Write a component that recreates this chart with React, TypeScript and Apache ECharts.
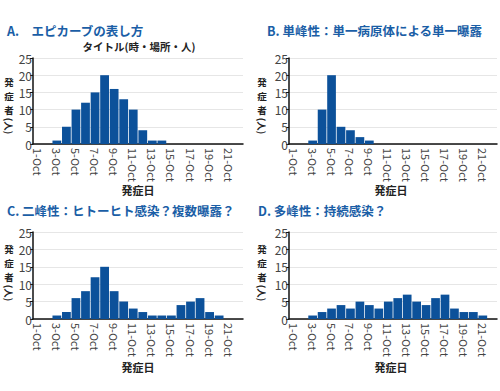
import React, { useEffect, useRef } from "react";
import * as echarts from "echarts";

const days = Array.from({ length: 22 }, (_, i) => `${i + 1}-Oct`);
const seriesA = [0, 0, 1, 5, 10, 12, 15, 20, 16, 13, 10, 4, 1, 1, 0, 0, 0, 0, 0, 0, 0, 0];
const seriesB = [0, 0, 1, 10, 20, 5, 4, 2, 1, 0, 0, 0, 0, 0, 0, 0, 0, 0, 0, 0, 0, 0];
const seriesC = [0, 0, 1, 2, 6, 8, 12, 15, 8, 5, 3, 2, 1, 1, 1, 4, 5, 6, 2, 1, 0, 0];
const seriesD = [0, 0, 1, 2, 3, 4, 3, 5, 4, 3, 5, 6, 7, 5, 4, 6, 7, 3, 2, 2, 1, 0];
const panelTitles = [
  "A.　エピカーブの表し方",
  "B. 単峰性：単一病原体による単一曝露",
  "C. 二峰性：ヒトーヒト感染？複数曝露？",
  "D. 多峰性：持続感染？",
];
const subTitle = "タイトル(時・場所・人)";
const yNameChars = ["発", "症", "者"];
const yNameBottom = "(人)";
const xName = "発症日";

const FONT = "'Noto Sans CJK JP', 'Noto Sans', sans-serif";
const BLUE = "#1a5ea6";
const BAR = "#0c519a";

export default function App() {
  const ref = useRef<HTMLDivElement>(null);
  useEffect(() => {
    if (!ref.current) return;
    const chart = echarts.init(ref.current, null, { renderer: "svg" });
    const grids = [
      { left: 33, top: 58, width: 210, height: 86 },
      { left: 289, top: 58, width: 208, height: 86 },
      { left: 33, top: 232, width: 210, height: 87 },
      { left: 289, top: 232, width: 208, height: 87 },
    ];
    const data = [seriesA, seriesB, seriesC, seriesD];
    const titlePos = [
      { left: 7, top: 24 },
      { left: 267, top: 24 },
      { left: 7, top: 204 },
      { left: 258, top: 204 },
    ];
    const yNamePos = [
      { x: 9, y: 77 },
      { x: 262, y: 77 },
      { x: 9, y: 244 },
      { x: 262, y: 244 },
    ];
    const xNamePos = [
      { x: 138, y: 190 },
      { x: 391, y: 190 },
      { x: 138, y: 367 },
      { x: 391, y: 367 },
    ];
    const labelStyle = {
      fontSize: 9.5,
      fontWeight: "bold",
      fontFamily: FONT,
      fill: "#222",
    };
    const yNameGraphics: any[] = [];
    yNamePos.forEach((p) => {
      yNameChars.forEach((c, k) => {
        yNameGraphics.push({
          type: "text",
          x: p.x,
          y: p.y + k * 14,
          style: { ...labelStyle, text: c, align: "center", verticalAlign: "top" },
        });
      });
      yNameGraphics.push({
        type: "text",
        x: p.x,
        y: p.y + 49,
        rotation: -Math.PI / 2,
        style: { ...labelStyle, text: yNameBottom, align: "center", verticalAlign: "middle" },
      });
    });
    const option: any = {
      animation: false,
      textStyle: { fontFamily: FONT },
      title: [
        ...panelTitles.map((t, i) => ({
          text: t,
          left: titlePos[i].left,
          top: titlePos[i].top,
          padding: 0,
          textStyle: { color: BLUE, fontSize: 12.5, fontWeight: "bold", fontFamily: FONT },
        })),
        {
          text: subTitle,
          left: 139,
          top: 41,
          textAlign: "center",
          padding: 0,
          textStyle: { color: "#222", fontSize: 10.5, fontWeight: "bold", fontFamily: FONT },
        },
      ],
      grid: grids,
      xAxis: grids.map((_, i) => ({
        type: "category",
        gridIndex: i,
        data: days,
        axisLine: { show: true, lineStyle: { color: "#111", width: 1.5 } },
        axisTick: { show: false },
        axisLabel: {
          interval: 1,
          rotate: -90,
          fontSize: 11,
          color: "#444",
          margin: 4,
          fontFamily: FONT,
        },
      })),
      yAxis: grids.map((_, i) => ({
        type: "value",
        gridIndex: i,
        min: 0,
        max: 25,
        interval: 5,
        axisLine: { show: true, lineStyle: { color: "#111", width: 1.5 } },
        axisTick: { show: true, length: 3, lineStyle: { color: "#111" } },
        axisLabel: { fontSize: 12, color: "#444", margin: 1, fontFamily: FONT },
        splitLine: { show: true, lineStyle: { color: "#e6e6e6", width: 1 } },
      })),
      series: data.map((d, i) => ({
        type: "bar",
        xAxisIndex: i,
        yAxisIndex: i,
        data: d,
        barCategoryGap: "8%",
        itemStyle: { color: BAR },
      })),
      graphic: [
        ...yNameGraphics,
        ...xNamePos.map((p) => ({
          type: "text",
          x: p.x,
          y: p.y,
          style: {
            text: xName,
            fontSize: 11,
            fontWeight: "bold",
            fontFamily: FONT,
            fill: "#222",
            align: "center",
            verticalAlign: "middle",
          },
        })),
      ],
    };
    chart.setOption(option);
    return () => chart.dispose();
  }, []);
  return <div ref={ref} style={{ width: 500, height: 391, position: "absolute", left: 0, top: 0, background: "#fff" }} />;
}
